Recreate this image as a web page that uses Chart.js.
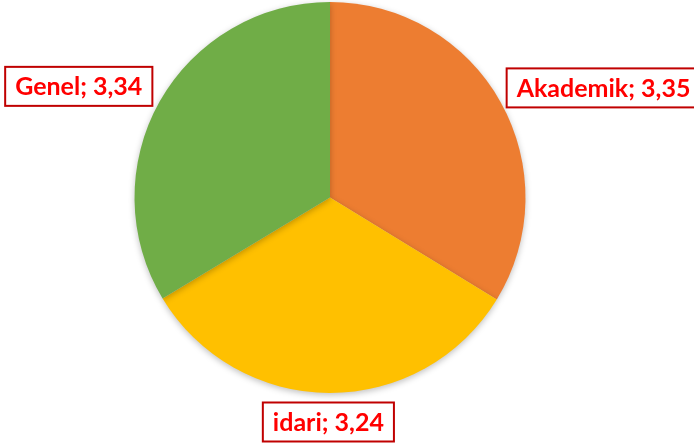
<!DOCTYPE html>
<html>
<head>
<meta charset="utf-8">
<script src="https://cdn.jsdelivr.net/npm/chart.js@4"></script>
<style>
  html, body { margin: 0; padding: 0; background: #fff; }
  #wrap { width: 694px; height: 445px; }
</style>
</head>
<body>
<div id="wrap"><canvas id="my-chart"></canvas></div>
<script>
const categories = ['Akademik', 'idari', 'Genel'];
const values = [3.35, 3.24, 3.34];
const sliceColors = ['#ED7D31', '#FFC000', '#70AD47'];

// offset of each label box from the arc's outer mid point
const labelOffsets = [[103, -14], [-1, 29], [-81, -15]];

const pieShadow = {
    id: 'pieShadow',
    beforeDatasetDraw(chart) {
        let ctx = chart.ctx;
        ctx.save();
        ctx.shadowColor = 'rgba(0,0,0,0.25)';
        ctx.shadowBlur = 6;
        ctx.shadowOffsetY = 2;
    },
    afterDatasetDraw(chart) {
        chart.ctx.restore();
    }
};

const boxLabels = {
    id: 'boxLabels',
    afterDraw(chart) {
        let ctx = chart.ctx;
        let meta = chart.getDatasetMeta(0);
        ctx.save();
        ctx.font = 'bold 25px Lato, "Open Sans", sans-serif';
        ctx.textAlign = 'center';
        ctx.textBaseline = 'middle';
        meta.data.forEach((arc, i) => {
            let p = arc.getProps(['x', 'y', 'startAngle', 'endAngle', 'outerRadius'], true);
            let mid = (p.startAngle + p.endAngle) / 2;
            let cx = p.x + Math.cos(mid) * p.outerRadius + labelOffsets[i][0];
            let cy = p.y + Math.sin(mid) * p.outerRadius + labelOffsets[i][1];
            let text = categories[i] + '; ' + values[i].toFixed(2).replace('.', ',');
            let w = ctx.measureText(text).width + 20;
            let h = 39;
            ctx.fillStyle = '#fff';
            ctx.fillRect(cx - w / 2, cy - h / 2, w, h);
            ctx.strokeStyle = '#C00000';
            ctx.lineWidth = 2;
            ctx.strokeRect(cx - w / 2, cy - h / 2, w, h);
            ctx.fillStyle = '#FF0000';
            ctx.fillText(text, cx, cy + 1);
        });
        ctx.restore();
    }
};

new Chart(document.getElementById('my-chart'), {
    type: 'pie',
    data: {
        labels: categories,
        datasets: [{
            data: values,
            backgroundColor: sliceColors,
            borderWidth: 0
        }]
    },
    options: {
        responsive: true,
        maintainAspectRatio: false,
        animation: false,
        layout: { padding: { top: 2, bottom: 52, left: 0, right: 34 } },
        plugins: {
            legend: { display: false },
            tooltip: { enabled: false }
        }
    },
    plugins: [pieShadow, boxLabels]
});
</script>
</body>
</html>
